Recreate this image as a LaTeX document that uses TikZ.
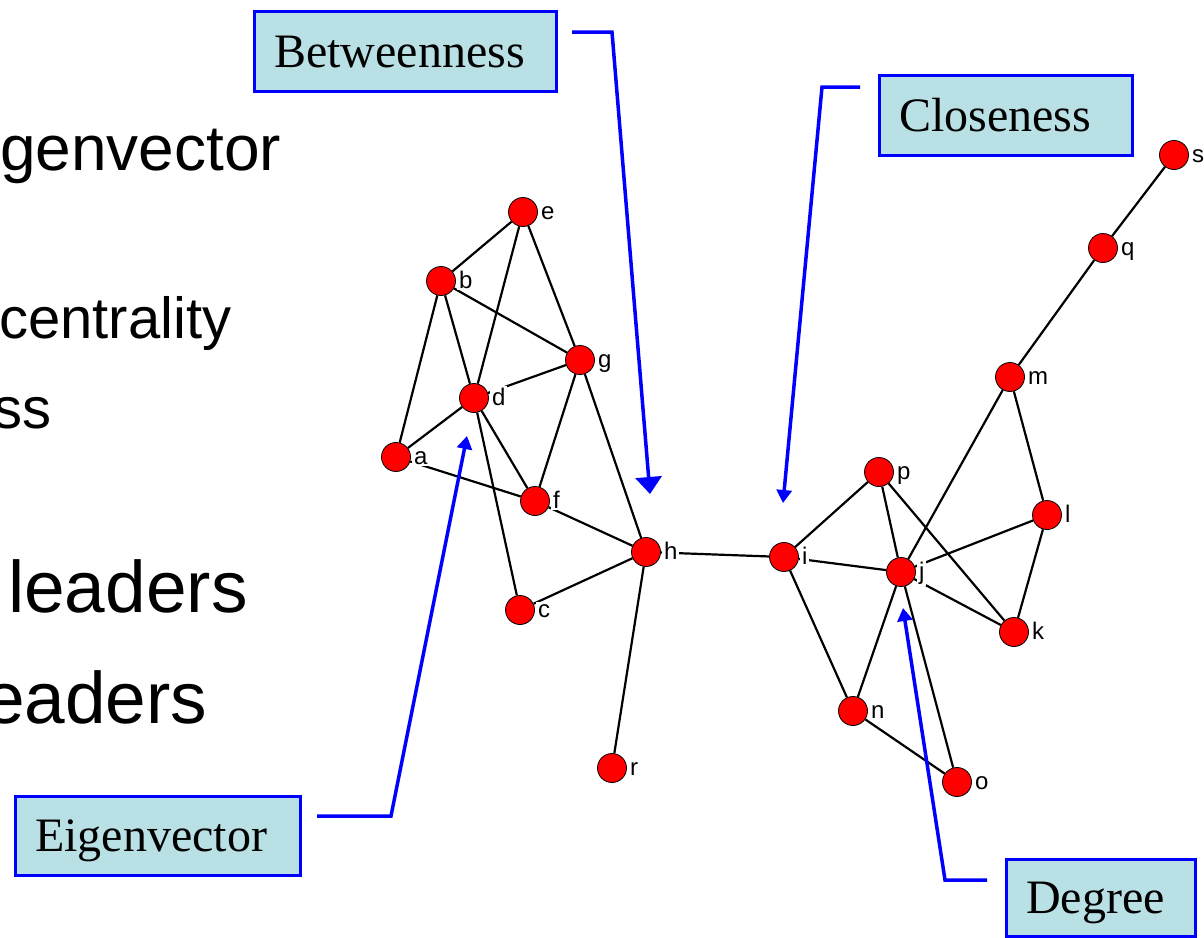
\documentclass[tikz,border=0pt]{standalone}
\usepackage{fontspec}
\setmainfont{Liberation Sans}
\newfontfamily\serifbox{Liberation Serif}
\usetikzlibrary{arrows.meta}
\definecolor{boxfill}{RGB}{185,224,229}
\pgfdeclarelayer{bg}
\pgfsetlayers{bg,main}
\begin{document}
\begin{tikzpicture}[x=1pt,y=-1pt,
  vtx/.style={circle,fill=red,draw=black,line width=0.8pt,minimum size=29pt,inner sep=0pt},
  lbl/.style={font=\fontsize{24}{24}\selectfont,fill=white,inner sep=2pt,anchor=base west,xshift=1pt,yshift=-7pt},
  edge/.style={line width=2.2pt},
  box/.style={draw=blue,line width=3.5pt,fill=boxfill,font=\serifbox\fontsize{48}{48}\selectfont,align=left,inner xsep=20pt,inner ysep=0pt,text height=32pt,text depth=0pt,anchor=north west},
  lead/.style={draw=blue,line width=3.5pt},
  bigarrow/.style={-{Triangle[width=26pt,length=17pt]}},
  smallarrow/.style={-{Triangle[width=15pt,length=13pt]}},
  bigtext/.style={font=\fontsize{#1}{#1}\selectfont,anchor=base west,inner sep=0pt},
]
\useasboundingbox (0,0) rectangle (1204,937);

% left text
\node[bigtext=64] (t1) at (0,170) {genvector};
\node[bigtext=58] (t2) at (-1,338) {centrality};
\node[bigtext=58] (t3) at (-7,428) {ss};
\node[bigtext=73] (t4) at (8,612) {leaders};
\node[bigtext=73] (t5) at (-16,723) {eaders};

% vertices
\node[vtx,label={[lbl]east:a}] (a) at (396,457) {};
\node[vtx,label={[lbl]east:b}] (b) at (441,281) {};
\node[vtx,label={[lbl]east:c}] (c) at (520,610) {};
\node[vtx,label={[lbl]east:d}] (d) at (474,398) {};
\node[vtx,label={[lbl]east:e}] (e) at (523,212) {};
\node[vtx,label={[lbl]east:f}] (f) at (535,501) {};
\node[vtx,label={[lbl]east:g}] (g) at (580,360) {};
\node[vtx,label={[lbl]east:h}] (h) at (646,552) {};
\node[vtx,label={[lbl]east:i}] (i) at (784,557) {};
\node[vtx,label={[lbl]east:j}] (j) at (901,572) {};
\node[vtx,label={[lbl]east:k}] (k) at (1014,632) {};
\node[vtx,label={[lbl]east:l}] (l) at (1047,515) {};
\node[vtx,label={[lbl]east:m}] (m) at (1010,377) {};
\node[vtx,label={[lbl]east:n}] (n) at (853,711) {};
\node[vtx,label={[lbl]east:o}] (o) at (957,782) {};
\node[vtx,label={[lbl]east:p}] (p) at (879,472) {};
\node[vtx,label={[lbl]east:q}] (q) at (1103,248) {};
\node[vtx,label={[lbl]east:r}] (r) at (612,768) {};
\node[vtx,label={[lbl]east:s}] (s) at (1174,155) {};

% edges
\begin{pgfonlayer}{bg}
\foreach \u/\v in {e/b,e/d,e/g,b/g,b/d,b/a,d/g,a/d,a/f,d/f,d/c,g/f,g/h,f/h,c/h,h/i,h/r,
  i/p,i/j,i/n,p/j,p/k,j/l,j/k,j/m,j/n,j/o,n/o,m/l,l/k,m/q,q/s}
  \draw[edge] (\u) -- (\v);
\end{pgfonlayer}

% boxes
\node[box,text width=262pt,minimum height=80pt] (bet) at (252.5,9.5) {Betweenness};
\node[box,text width=213pt,minimum height=80pt] (clo) at (877.5,73.5) {Closeness};
\node[box,text width=245pt,minimum height=79pt] (eig) at (13.5,794.5) {Eigenvector};
\node[box,text width=149pt,minimum height=77pt] (deg) at (1004.5,857.5) {Degree};

% leader arrows
\coordinate (betS) at (572,32);
\coordinate (betK) at (612,32);
\coordinate (betT) at (650,494);
\coordinate (cloS) at (860,87);
\coordinate (cloK) at (822,87);
\coordinate (cloT) at (783,503);
\coordinate (eigS) at (317,816);
\coordinate (eigK) at (391,816);
\coordinate (eigT) at (467,436);
\coordinate (degS) at (987,880);
\coordinate (degK) at (945,880);
\coordinate (degT) at (903,608);
\draw[lead,bigarrow] (betS) -- (betK) -- (betT);
\draw[lead,smallarrow] (cloS) -- (cloK) -- (cloT);
\draw[lead,smallarrow] (eigS) -- (eigK) -- (eigT);
\draw[lead,smallarrow] (degS) -- (degK) -- (degT);
\end{tikzpicture}
\end{document}
